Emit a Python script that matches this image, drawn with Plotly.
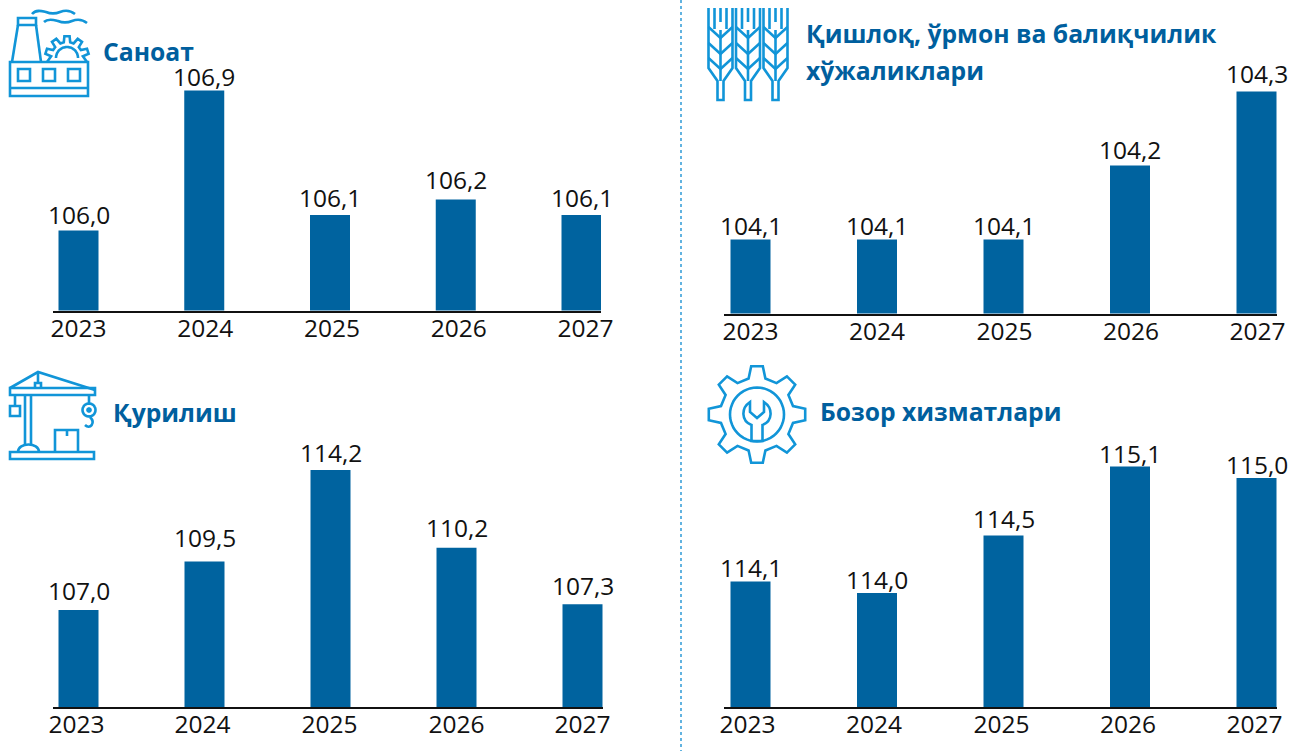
import math
import plotly.graph_objects as go

years = [2023, 2024, 2025, 2026, 2027]
year_labels = ["2023", "2024", "2025", "2026", "2027"]
sanoat = [106.0, 106.9, 106.1, 106.2, 106.1]
qishloq = [104.1, 104.1, 104.1, 104.2, 104.3]
qurilish = [107.0, 109.5, 114.2, 110.2, 107.3]
bozor = [114.1, 114.0, 114.5, 115.1, 115.0]

titles = ["Саноат", "Қишлоқ, ўрмон ва балиқчилик", "хўжаликлари", "Қурилиш", "Бозор хизматлари"]

W, H = 1290, 751
BAR = "#00639f"
TITLE = "#005f9e"
ICON = "#1195d8"
FONT = "Open Sans"

# left, right, baseline, top (pixels); first bar centre, bar step; axis min, pixels per unit
panels = [
    (sanoat,   53, 601, 310.5, 60, 78.5, 125.75, 105.486, 155.6),
    (qishloq, 724, 1277, 313.5, 60, 750.5, 126.5, 104.0, 740.0),
    (qurilish, 53, 603, 707, 420, 78.5, 126.0, 102.01, 19.44),
    (bozor,   724, 1277, 707, 420, 750.5, 126.5, 113.009, 115.0),
]
# pixel offset of the tick labels from the bar centres, per panel
tick_nudges = [
    [0, 1, 2, 3, 4],
    [0, 0, 1, 1, 1],
    [-2, -2, -1, 0, 0],
    [-3, -3, -2, -2, -2],
]
# pixel gap from each bar's end to the middle of its value label, per panel
label_gaps = [
    [16, 14, 17, 20, 17],
    [14, 14, 14, 16, 18],
    [19, 24, 18, 20, 19],
    [14, 14, 17, 13, 14],
]

fig = go.Figure()
layout = {}
annotations = []
for i, (vals, l, r, base, top, c0, step, ymin, scale) in enumerate(panels, start=1):
    fig.add_trace(go.Bar(
        x=years, y=vals, xaxis=f"x{i}", yaxis=f"y{i}",
        marker=dict(color=BAR, line=dict(width=0)),
        width=40 / step,
        cliponaxis=True,
        showlegend=False, hoverinfo="skip",
    ))
    first = years[0]
    layout[f"xaxis{i}"] = dict(
        domain=[l / W, r / W], anchor=f"y{i}", type="linear", automargin=False,
        range=[first + (l - c0) / step, first + (r - c0) / step],
        tickmode="array",
        tickvals=[y + n / step for y, n in zip(years, tick_nudges[i - 1])],
        ticktext=year_labels,
        showline=True, linecolor="#111111", linewidth=2, ticks="",
        ticklabelstandoff=-5,
        showgrid=False, zeroline=False, fixedrange=True,
        tickfont=dict(family=FONT, size=24.5, color="#111111"),
    )
    layout[f"yaxis{i}"] = dict(
        domain=[1 - base / H, 1 - top / H], anchor=f"x{i}", automargin=False,
        range=[ymin, ymin + (base - top) / scale],
        visible=False, fixedrange=True,
    )
    for y, v, gap in zip(years, vals, label_gaps[i - 1]):
        annotations.append(dict(
            text=f"{v:.1f}".replace(".", ","), xref=f"x{i}", yref=f"y{i}", x=y, y=v,
            xanchor="center", yanchor="middle", yshift=gap, showarrow=False, borderpad=0,
            font=dict(family=FONT, size=24.5, color="#111111"),
        ))

# invisible overlay axis whose units are page pixels, used only for the decorative icons
layout["xaxis5"] = dict(domain=[0, 1], range=[0, W], visible=False, anchor="y5", fixedrange=True, automargin=False)
layout["yaxis5"] = dict(domain=[0, 1], range=[H, 0], visible=False, anchor="x5", fixedrange=True, automargin=False)
fig.add_trace(go.Scatter(x=[], y=[], xaxis="x5", yaxis="y5", showlegend=False))


def gear(cx, cy, root, tip, n, rot, w_root, w_tip, count=None):
    pts = []
    for k in range(n if count is None else count):
        a = rot + k * 2 * math.pi / n
        for da, rr in ((-w_root, root), (-w_tip, tip), (w_tip, tip), (w_root, root)):
            pts.append((cx + rr * math.cos(a + da), cy + rr * math.sin(a + da)))
    return pts


def poly(pts, close=True):
    return "M" + " L".join(f"{x:.1f} {y:.1f}" for x, y in pts) + (" Z" if close else "")


def arc(cx, cy, r, a0=0.0, a1=2 * math.pi, close=True):
    n = 48
    return poly([(cx + r * math.cos(a0 + (a1 - a0) * k / n), cy + r * math.sin(a0 + (a1 - a0) * k / n))
                 for k in range(n + 1)], close)


icons = []
# factory
icons += [
    "M10 62 H88 V96 H10 Z", "M10 88 H88",
    "M18 69 H30 V81 H18 Z", "M43 69 H55 V81 H43 Z", "M68 69 H80 V81 H68 Z",
    "M18 18 H36 V25 H18 Z", "M18 25 L12 62", "M36 25 L41 62",
    "M32 14 C36 9 42 11 46 12 C51 14 55 14 60 12 C65 10 70 10 75 14",
    "M44 22 C48 18 54 20 58 21 C63 23 67 23 72 21 C77 19 82 19 87 23",
    arc(67, 58, 11, math.pi, 2 * math.pi, close=False),
]
fp = gear(67, 58, 16, 22, 10, math.pi * 1.1, 0.2, 0.12, count=5)
icons.append(poly([(47, 62)] + fp + [(87, 62)], close=False))
# crane
icons += [
    "M10 388 L38 372 L95 390", "M10 388 H95 V395 H10 Z",
    "M25 395 V445", "M31 395 V445", "M38 372 V384", "M35 388 V383 H41 V388",
    "M10 452 H94 V459 H10 Z", "M18 452 C18 442 39 442 39 452",
    "M15 395 V405", "M10 406 H20 V416 H10 Z",
    "M89 395 V403", arc(89, 410, 6.5), arc(89, 410, 1.5),
    "M90 417 C96 423 90 430 85 425",
    "M55 452 V430 H78 V452", "M67 430 V436",
]
# wheat
for c in (720.5, 748, 775.5):
    icons += [
        f"M{c - 12} 8 V68 L{c - 3} 81 V100 H{c + 3} V81 L{c + 12} 68 V8",
        f"M{c - 6} 8 V29", f"M{c + 6} 8 V29", f"M{c} 8 V22",
        f"M{c} 30 V81",
        f"M{c - 12} 27 L{c} 38 L{c + 12} 27",
        f"M{c - 12} 43 L{c} 54 L{c + 12} 43",
        f"M{c - 12} 58 L{c} 69 L{c + 12} 58",
    ]
# service gear
icons += [
    poly(gear(757, 414.5, 37, 48.5, 8, -math.pi / 2, 0.23, 0.12)),
    arc(757, 414.5, 27),
    "M750 402 C741 408 741 421 751.5 425 V441 H762.5 V425 C773 421 773 408 764 402 V412 L757 418 L750 412 Z",
]

shapes = [dict(type="path", path=p, xref="x5", yref="y5",
               line=dict(color=ICON, width=2.6), fillcolor="rgba(0,0,0,0)", layer="above") for p in icons]
shapes.append(dict(type="line", xref="x5", yref="y5", x0=681, x1=681, y0=0, y1=751,
                   line=dict(color="#2f9bd6", width=1.5, dash="dot")))

title_pos = [(102, 51), (805, 33), (805, 70), (112, 412), (819, 411)]
annotations += [
    dict(text=f"<b>{t}</b>", xref="x5", yref="y5", x=x, y=y, xanchor="left", yanchor="middle",
         align="left", showarrow=False, borderpad=0,
         font=dict(family=FONT, size=24.7, color=TITLE))
    for t, (x, y) in zip(titles, title_pos)
]

fig.update_layout(
    width=W, height=H, margin=dict(l=0, r=0, t=0, b=0), autosize=False,
    paper_bgcolor="white", plot_bgcolor="rgba(0,0,0,0)",
    shapes=shapes, annotations=annotations, barmode="overlay",
    **layout,
)
fig.write_html("out.html", config={"displayModeBar": False},
               post_script="document.body.style.margin='0';document.body.style.overflow='hidden';")
